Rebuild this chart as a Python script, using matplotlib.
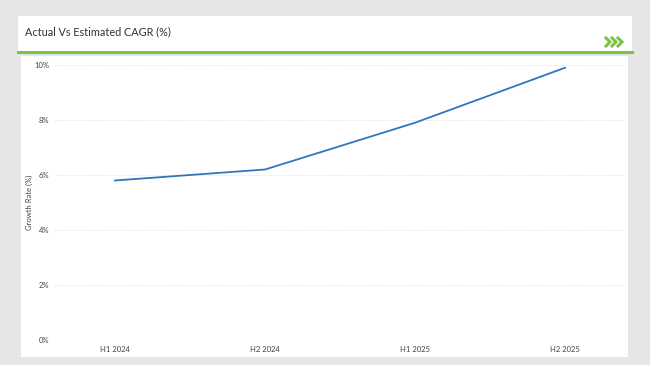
import matplotlib
matplotlib.use("Agg")
import matplotlib.pyplot as plt
from matplotlib.patches import Rectangle
from matplotlib.lines import Line2D

categories = ["H1 2024", "H2 2024", "H1 2025", "H2 2025"]
growth = [5.8, 6.2, 7.9, 9.9]
yticks = [0, 2, 4, 6, 8, 10]
ytick_labels = ["0%", "2%", "4%", "6%", "8%", "10%"]

W, H = 650, 365
plt.rcParams['font.family'] = ['Lato', 'DejaVu Sans']
fig = plt.figure(figsize=(W/100, H/100), dpi=100)
fig.patch.set_facecolor("#e6e6e6")

def fx(x): return x / W
def fy(y): return 1 - y / H

# header panel
fig.add_artist(Rectangle((fx(18), fy(53)), fx(632) - fx(18), fy(16) - fy(53),
                         transform=fig.transFigure, facecolor="white", edgecolor="none", zorder=0))
# chart panel
fig.add_artist(Rectangle((fx(21), fy(357)), fx(628) - fx(21), fy(56) - fy(357),
                         transform=fig.transFigure, facecolor="white", edgecolor="none", zorder=0))
# green rule
fig.add_artist(Line2D([fx(18), fx(632)], [fy(52), fy(52)], transform=fig.transFigure,
                      color="#7dc243", linewidth=2.2, zorder=1))
# chevrons
for i in range(3):
    x0 = 606 + i * 6
    fig.add_artist(Line2D([fx(x0), fx(x0 + 4), fx(x0)], [fy(38), fy(42), fy(46)],
                          transform=fig.transFigure, color="#7dc243", linewidth=2.2,
                          solid_joinstyle="miter", zorder=2))

fig.text(fx(25), fy(32), "Actual Vs Estimated CAGR (%)", fontsize=7.8, color="#333333",
         va="center", ha="left")

ax = fig.add_axes([fx(55), fy(340), fx(625) - fx(55), fy(65) - fy(340)])
ax.set_facecolor("none")
x = list(range(len(categories)))
ax.plot(x, growth, color="#2d78bb", linewidth=1.3, zorder=3)
ax.set_xlim(-0.4, 3.4)
ax.set_ylim(0, 10)
ax.set_yticks(yticks)
ax.set_yticklabels(ytick_labels)
ax.set_xticks(x)
ax.set_xticklabels(categories)
ax.tick_params(axis="both", length=0, labelsize=5.5, labelcolor="#444444")
ax.tick_params(axis="y", pad=4)
ax.tick_params(axis="x", pad=4)
ax.grid(axis="y", linestyle=(0, (1, 2)), color="#d0d0d0", linewidth=0.6)
for s in ax.spines.values():
    s.set_visible(False)
ax.set_ylabel("Growth Rate (%)", fontsize=5.5, color="#444444")
ax.yaxis.set_label_coords((33 - 55) / 570, 0.5)

fig.savefig("out.png", dpi=100, facecolor=fig.get_facecolor())
